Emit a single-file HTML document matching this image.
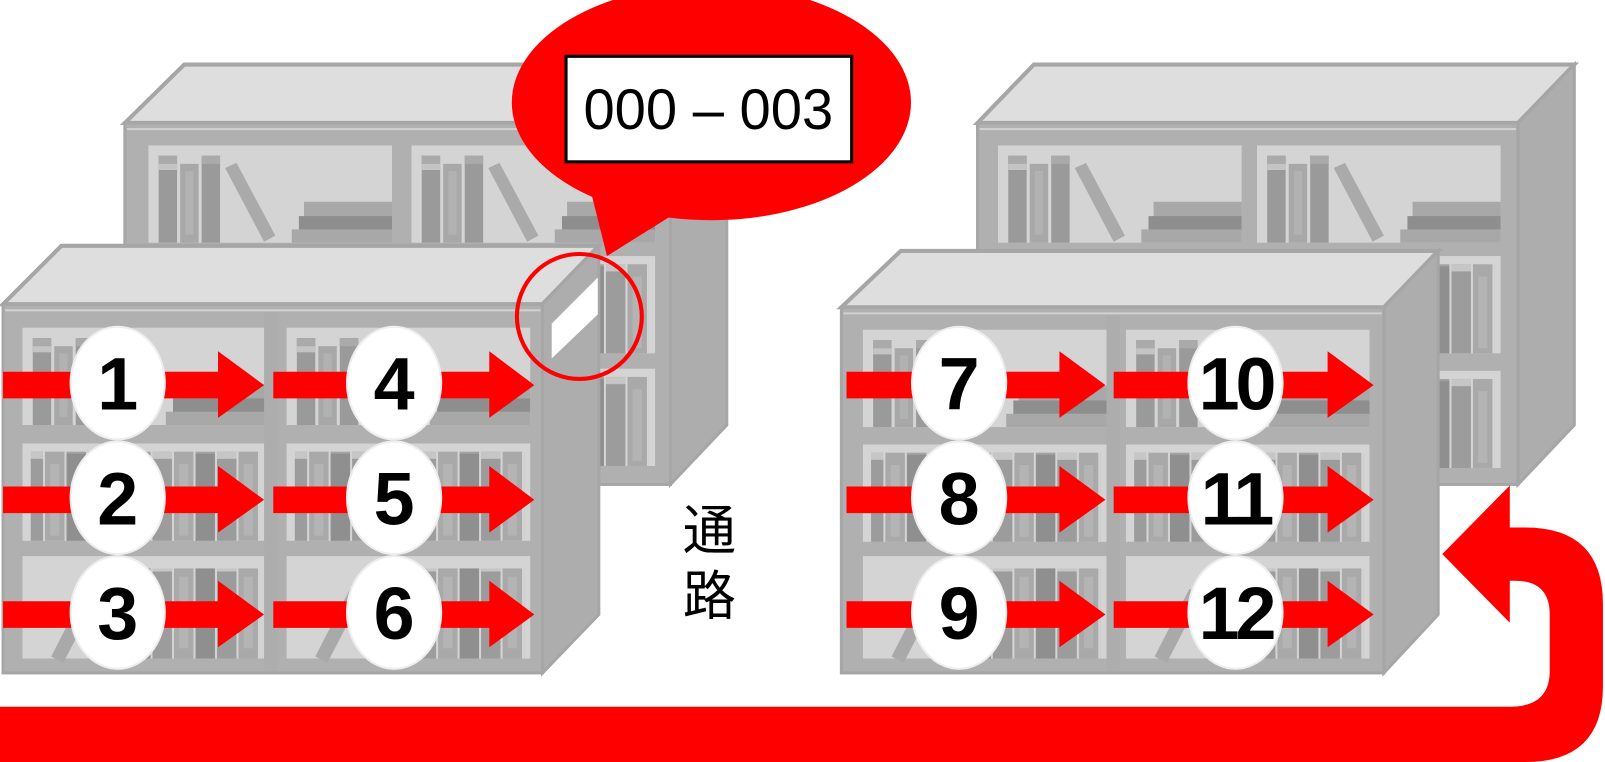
<!DOCTYPE html>
<html><head><meta charset="utf-8"><style>
html,body{margin:0;padding:0;background:#fff;width:1605px;height:762px;overflow:hidden}
svg{display:block}
</style></head><body>
<svg width="1605" height="762" viewBox="0 0 1568 744" preserveAspectRatio="none" xmlns="http://www.w3.org/2000/svg">
<defs>
<pattern id="bk" width="63" height="100" patternUnits="userSpaceOnUse">
<rect width="63" height="100" fill="#d4d4d4"/>
<rect x="1" y="0" width="19" height="100" fill="#9c9c9c"/><rect x="1" y="0" width="19" height="8" fill="#a8a8a8"/><rect x="1" y="8" width="19" height="7" fill="#c6c6c6"/>
<rect x="22" y="0" width="19" height="100" fill="#a9a9a9"/><rect x="27" y="20" width="9" height="70" fill="#b4b4b4"/>
<rect x="43" y="0" width="19" height="100" fill="#8f8f8f"/><rect x="43" y="0" width="19" height="10" fill="#a3a3a3"/>
</pattern>
<g id="topc">
<rect width="238" height="95" fill="#d4d4d4"/>
<rect x="10" y="10" width="18" height="85" fill="#9a9a9a"/><rect x="10" y="10" width="18" height="8" fill="#aaa"/><rect x="10" y="18" width="18" height="6" fill="#c4c4c4"/>
<rect x="31" y="18" width="18" height="77" fill="#a8a8a8"/><rect x="36" y="25" width="8" height="62" fill="#b2b2b2"/>
<rect x="52" y="10" width="18" height="85" fill="#9a9a9a"/><rect x="52" y="10" width="18" height="8" fill="#aaa"/>
<polygon points="75,22 86,17 124,88 113,94" fill="#aaa"/>
<rect x="152" y="55" width="86" height="16" fill="#a8a8a8"/><rect x="147" y="69" width="91" height="15" fill="#8e8e8e"/><rect x="140" y="82" width="98" height="13" fill="#a8a8a8"/>
</g>
<g id="midc">
<rect width="238" height="95" fill="#d4d4d4"/>
<rect x="8" y="8" width="224" height="87" fill="url(#bk)"/>
</g>
<g id="botc">
<rect width="238" height="100" fill="#d4d4d4"/>
<rect x="82" y="12" width="150" height="88" fill="url(#bk)"/>
<polygon points="28,98 62,32 74,38 40,104" fill="#a9a9a9"/>
</g>
<g id="circ"><ellipse cx="0" cy="0" rx="46" ry="55" fill="#fff" stroke="#eee" stroke-width="2"/></g>
</defs>

<!-- Back-left bookcase -->
<polygon points="122,120 180,63 710,63 655,120" fill="#dedede" stroke="#a6a6a6" stroke-width="4"/>
<polygon points="655,120 710,63 710,415 655,473" fill="#adadad" stroke="#a6a6a6" stroke-width="3"/>
<rect x="122" y="120" width="533" height="353" fill="#b0b0b0" stroke="#a6a6a6" stroke-width="3"/>
<line x1="124" y1="126" x2="653" y2="126" stroke="#d0d0d0" stroke-width="2"/>
<use href="#topc" x="145" y="142"/>
<use href="#topc" x="402" y="142"/>
<use href="#midc" x="145" y="250"/>
<use href="#midc" x="402" y="250"/>
<use href="#midc" x="145" y="360"/>
<use href="#midc" x="402" y="360"/>

<!-- Back-right bookcase -->
<polygon points="955,120 1010,63 1538,63 1483,120" fill="#dedede" stroke="#a6a6a6" stroke-width="4"/>
<polygon points="1483,120 1538,63 1538,415 1483,473" fill="#adadad" stroke="#a6a6a6" stroke-width="3"/>
<rect x="955" y="120" width="528" height="353" fill="#b0b0b0" stroke="#a6a6a6" stroke-width="3"/>
<line x1="957" y1="126" x2="1481" y2="126" stroke="#d0d0d0" stroke-width="2"/>
<use href="#topc" x="975" y="142"/>
<use href="#topc" x="1228" y="142"/>
<use href="#midc" x="975" y="250"/>
<use href="#midc" x="1228" y="250"/>
<use href="#midc" x="975" y="362"/>
<use href="#midc" x="1228" y="362"/>

<!-- Front-left bookcase -->
<polygon points="3,297 60,240 585,240 530,297" fill="#dedede" stroke="#a6a6a6" stroke-width="4"/>
<polygon points="530,297 585,240 585,600 530,657" fill="#adadad" stroke="#a6a6a6" stroke-width="3"/>
<rect x="3" y="297" width="527" height="360" fill="#b0b0b0" stroke="#a6a6a6" stroke-width="3"/>
<line x1="5" y1="303" x2="528" y2="303" stroke="#d0d0d0" stroke-width="2"/>
<use href="#topc" x="22" y="320"/>
<use href="#topc" x="280" y="320"/>
<use href="#midc" x="22" y="433"/>
<use href="#midc" x="280" y="433"/>
<use href="#botc" x="22" y="543"/>
<use href="#botc" x="280" y="543"/>
<rect x="258" y="305" width="13" height="350" fill="#adadad"/>

<!-- Front-right bookcase -->
<polygon points="822,300 880,245 1405,245 1352,300" fill="#dedede" stroke="#a6a6a6" stroke-width="4"/>
<polygon points="1352,300 1405,245 1405,600 1352,657" fill="#adadad" stroke="#a6a6a6" stroke-width="3"/>
<rect x="822" y="300" width="530" height="357" fill="#b0b0b0" stroke="#a6a6a6" stroke-width="3"/>
<line x1="824" y1="306" x2="1350" y2="306" stroke="#d0d0d0" stroke-width="2"/>
<use href="#topc" x="843" y="322"/>
<use href="#topc" x="1100" y="322"/>
<use href="#midc" x="843" y="434"/>
<use href="#midc" x="1100" y="434"/>
<use href="#botc" x="843" y="543"/>
<use href="#botc" x="1100" y="543"/>
<rect x="1081" y="308" width="13" height="347" fill="#adadad"/>

<!-- Arrows -->
<g fill="#ff0000">
<polygon points="3,363 213,363 213,343 258,376 213,408 213,389 3,389"/>
<polygon points="267,363 478,363 478,343 522,376 478,408 478,389 267,389"/>
<polygon points="3,475 213,475 213,455 258,488 213,520 213,501 3,501"/>
<polygon points="267,475 478,475 478,455 522,488 478,520 478,501 267,501"/>
<polygon points="3,587 213,587 213,567 258,600 213,632 213,613 3,613"/>
<polygon points="267,587 478,587 478,567 522,600 478,632 478,613 267,613"/>
<polygon points="827,363 1035,363 1035,343 1080,376 1035,408 1035,389 827,389"/>
<polygon points="1088,363 1297,363 1297,343 1342,376 1297,408 1297,389 1088,389"/>
<polygon points="827,475 1035,475 1035,455 1080,488 1035,520 1035,501 827,501"/>
<polygon points="1088,475 1297,475 1297,455 1342,488 1297,520 1297,501 1088,501"/>
<polygon points="827,587 1035,587 1035,567 1080,600 1035,632 1035,613 827,613"/>
<polygon points="1088,587 1297,587 1297,567 1342,600 1297,632 1297,613 1088,613"/>
</g>

<!-- Number circles -->
<g font-family="Liberation Sans, sans-serif" font-weight="bold" font-size="72" text-anchor="middle" fill="#000">
<use href="#circ" x="115" y="374"/><text x="115" y="400">1</text>
<use href="#circ" x="385" y="374"/><text x="385" y="400">4</text>
<use href="#circ" x="115" y="486"/><text x="115" y="512">2</text>
<use href="#circ" x="385" y="486"/><text x="385" y="512">5</text>
<use href="#circ" x="115" y="598"/><text x="115" y="624">3</text>
<use href="#circ" x="385" y="598"/><text x="385" y="624">6</text>
<use href="#circ" x="937" y="374"/><text x="937" y="400">7</text>
<use href="#circ" x="1207" y="374"/><text x="1207" y="400" letter-spacing="-4">10</text>
<use href="#circ" x="937" y="486"/><text x="937" y="512">8</text>
<use href="#circ" x="1207" y="486"/><text x="1207" y="512" letter-spacing="-4">11</text>
<use href="#circ" x="937" y="598"/><text x="937" y="624">9</text>
<use href="#circ" x="1207" y="598"/><text x="1207" y="624" letter-spacing="-4">12</text>
</g>

<!-- Callout -->
<ellipse cx="695" cy="100" rx="195" ry="115" fill="#ff0000"/>
<polygon points="578,190 593,250 665,205" fill="#ff0000"/>
<rect x="553" y="55" width="279" height="103" fill="#fff" stroke="#000" stroke-width="3"/>
<text x="692" y="126" font-family="Liberation Sans, sans-serif" font-size="56" text-anchor="middle" fill="#000" textLength="244" lengthAdjust="spacingAndGlyphs">000 – 003</text>

<!-- label on side + red circle -->
<polygon points="539,316 584,271 584,307 539,350" fill="#fff"/>
<circle cx="566" cy="309" r="61" fill="none" stroke="#ff0000" stroke-width="4"/>

<!-- 通路 -->
<g font-family="Liberation Sans, 'Noto Sans CJK JP', sans-serif" font-size="52" text-anchor="middle" fill="#000">
<text x="693" y="536">通</text>
<text x="693" y="600">路</text>
</g>

<!-- Bottom U-turn arrow -->
<path d="M0,690 H1475 Q1514,690 1514,655 V600 Q1514,567 1480,567 H1475 V608 L1409,541 L1475,474 V515 H1490 Q1566,515 1566,590 V670 Q1566,744 1490,744 H0 Z" fill="#ff0000"/>
</svg>
</body></html>
